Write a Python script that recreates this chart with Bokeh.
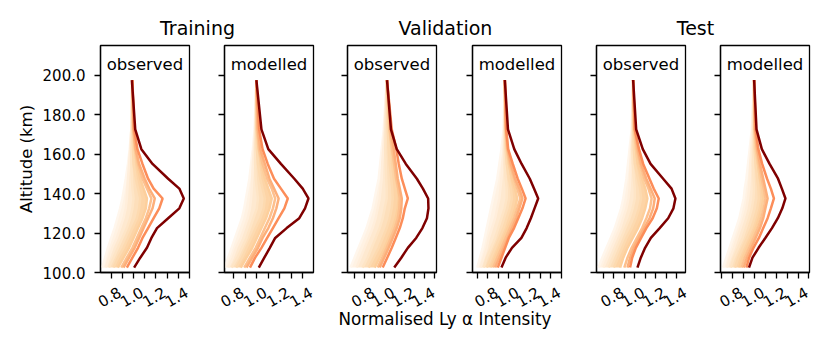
import math
from bokeh.plotting import figure
from bokeh.layouts import row, column
from bokeh.models import Range1d, FixedTicker, PrintfTickFormatter, Label
from bokeh.embed import file_html
from bokeh.resources import INLINE

# ---------------- data ----------------
ALT = [102.5, 107.5, 112.5, 117.5, 122.5, 127.5, 132.5, 137.5, 142.5, 147.5, 155.0, 162.5, 172.5, 197.5]

GROUP_TITLES = ["Training", "Validation", "Test"]
PANEL_KINDS = ["observed", "modelled", "observed", "modelled", "observed", "modelled"]
X_TICKS = [0.8, 1.0, 1.2, 1.4]
X_TICK_LABELS = ["0.8", "1.0", "1.2", "1.4"]
X_MINOR = [0.7, 0.9, 1.1, 1.3, 1.5]
Y_TICKS = [100, 120, 140, 160, 180, 200]
X_LIMITS = [(0.704, 1.501), (0.718, 1.494), (0.63, 1.515), (0.654, 1.502), (0.635, 1.483), (0.687, 1.505)]
Y_LIMITS = (100, 215)

# profiles ordered palest -> darkest
TRAIN_OBS = [
    [0.72, 0.745, 0.77, 0.80, 0.83, 0.855, 0.88, 0.90, 0.915, 0.93, 0.95, 0.965, 0.98, 0.985],
    [0.75, 0.78, 0.81, 0.85, 0.88, 0.91, 0.93, 0.94, 0.945, 0.95, 0.96, 0.97, 0.98, 0.985],
    [0.78, 0.82, 0.86, 0.90, 0.94, 0.97, 0.99, 1.0, 0.99, 0.985, 0.98, 0.98, 0.985, 0.99],
    [0.82, 0.86, 0.91, 0.95, 0.99, 1.03, 1.05, 1.06, 1.04, 1.02, 1.0, 0.995, 0.99, 0.99],
    [0.86, 0.91, 0.96, 1.0, 1.04, 1.08, 1.11, 1.12, 1.09, 1.06, 1.03, 1.01, 0.995, 0.99],
    [0.89, 0.94, 0.99, 1.03, 1.07, 1.11, 1.14, 1.16, 1.12, 1.08, 1.04, 1.015, 0.998, 0.99],
    [0.91, 0.96, 1.01, 1.05, 1.09, 1.13, 1.17, 1.19, 1.14, 1.10, 1.05, 1.02, 1.0, 0.99],
    [0.94, 0.99, 1.04, 1.08, 1.13, 1.18, 1.23, 1.26, 1.18, 1.13, 1.08, 1.035, 1.005, 0.99],
    [1.005, 1.06, 1.12, 1.16, 1.21, 1.31, 1.41, 1.45, 1.41, 1.31, 1.17, 1.07, 1.015, 0.985],
]
TRAIN_MOD = [
    [0.72, 0.75, 0.78, 0.81, 0.84, 0.87, 0.89, 0.905, 0.92, 0.935, 0.95, 0.965, 0.98, 0.995],
    [0.75, 0.79, 0.82, 0.86, 0.89, 0.92, 0.94, 0.95, 0.955, 0.96, 0.965, 0.975, 0.985, 0.995],
    [0.78, 0.83, 0.87, 0.91, 0.94, 0.97, 1.0, 1.01, 1.0, 0.99, 0.985, 0.985, 0.99, 0.996],
    [0.82, 0.87, 0.91, 0.95, 0.99, 1.03, 1.06, 1.07, 1.05, 1.03, 1.01, 1.0, 0.995, 0.996],
    [0.86, 0.91, 0.96, 1.0, 1.04, 1.08, 1.11, 1.13, 1.10, 1.07, 1.04, 1.015, 1.0, 0.996],
    [0.89, 0.94, 0.99, 1.03, 1.07, 1.11, 1.14, 1.16, 1.13, 1.09, 1.05, 1.02, 1.005, 0.996],
    [0.91, 0.96, 1.01, 1.05, 1.10, 1.14, 1.17, 1.19, 1.15, 1.11, 1.07, 1.03, 1.01, 0.996],
    [0.94, 0.985, 1.04, 1.09, 1.14, 1.19, 1.24, 1.27, 1.21, 1.15, 1.095, 1.05, 1.02, 0.996],
    [1.017, 1.065, 1.113, 1.16, 1.26, 1.37, 1.42, 1.45, 1.40, 1.327, 1.21, 1.10, 1.04, 0.996],
]
VALID_OBS = [
    [0.66, 0.70, 0.74, 0.78, 0.82, 0.85, 0.88, 0.90, 0.92, 0.94, 0.955, 0.97, 0.99, 1.02],
    [0.72, 0.76, 0.80, 0.84, 0.88, 0.91, 0.93, 0.95, 0.96, 0.97, 0.975, 0.985, 1.0, 1.02],
    [0.78, 0.83, 0.87, 0.91, 0.95, 0.98, 1.0, 1.02, 1.02, 1.015, 1.01, 1.005, 1.01, 1.02],
    [0.84, 0.89, 0.94, 0.98, 1.02, 1.05, 1.07, 1.08, 1.075, 1.065, 1.05, 1.04, 1.03, 1.02],
    [0.90, 0.95, 1.0, 1.04, 1.08, 1.11, 1.13, 1.14, 1.13, 1.11, 1.09, 1.07, 1.045, 1.023],
    [0.93, 0.975, 1.02, 1.06, 1.10, 1.13, 1.145, 1.15, 1.135, 1.115, 1.095, 1.075, 1.05, 1.023],
    [0.95, 0.995, 1.04, 1.08, 1.12, 1.15, 1.165, 1.17, 1.15, 1.13, 1.11, 1.09, 1.06, 1.023],
    [0.98, 1.025, 1.07, 1.11, 1.15, 1.18, 1.20, 1.23, 1.20, 1.17, 1.14, 1.115, 1.07, 1.023],
    [1.095, 1.165, 1.23, 1.313, 1.375, 1.42, 1.435, 1.432, 1.38, 1.32, 1.21, 1.12, 1.062, 1.023],
]
VALID_MOD = [
    [0.70, 0.725, 0.75, 0.77, 0.79, 0.81, 0.83, 0.85, 0.87, 0.89, 0.91, 0.93, 0.95, 0.96],
    [0.73, 0.76, 0.79, 0.81, 0.84, 0.87, 0.89, 0.91, 0.92, 0.93, 0.94, 0.95, 0.955, 0.96],
    [0.76, 0.79, 0.83, 0.87, 0.90, 0.93, 0.96, 0.98, 0.98, 0.97, 0.96, 0.96, 0.96, 0.962],
    [0.79, 0.83, 0.87, 0.91, 0.95, 0.98, 1.01, 1.03, 1.02, 1.0, 0.98, 0.97, 0.965, 0.962],
    [0.83, 0.87, 0.91, 0.95, 0.99, 1.03, 1.06, 1.08, 1.06, 1.03, 1.0, 0.98, 0.97, 0.962],
    [0.85, 0.89, 0.93, 0.97, 1.01, 1.05, 1.08, 1.11, 1.08, 1.05, 1.01, 0.985, 0.97, 0.962],
    [0.87, 0.91, 0.95, 0.99, 1.03, 1.07, 1.10, 1.13, 1.10, 1.06, 1.02, 0.99, 0.975, 0.962],
    [0.895, 0.93, 0.965, 1.0, 1.05, 1.09, 1.13, 1.16, 1.124, 1.085, 1.038, 0.994, 0.975, 0.962],
    [0.93, 0.97, 1.03, 1.12, 1.17, 1.21, 1.245, 1.28, 1.24, 1.20, 1.122, 1.052, 0.992, 0.962],
]
TEST_OBS = [
    [0.655, 0.69, 0.73, 0.77, 0.81, 0.84, 0.87, 0.89, 0.905, 0.92, 0.935, 0.95, 0.97, 0.984],
    [0.70, 0.74, 0.78, 0.82, 0.86, 0.89, 0.92, 0.94, 0.95, 0.955, 0.96, 0.965, 0.975, 0.984],
    [0.75, 0.79, 0.83, 0.87, 0.91, 0.95, 0.98, 1.0, 1.0, 0.99, 0.98, 0.975, 0.98, 0.984],
    [0.80, 0.84, 0.88, 0.92, 0.97, 1.01, 1.04, 1.06, 1.05, 1.03, 1.0, 0.99, 0.985, 0.984],
    [0.86, 0.89, 0.93, 0.98, 1.03, 1.07, 1.10, 1.12, 1.10, 1.07, 1.03, 1.01, 0.99, 0.984],
    [0.90, 0.93, 0.97, 1.02, 1.07, 1.11, 1.145, 1.16, 1.13, 1.09, 1.05, 1.02, 0.995, 0.984],
    [0.93, 0.955, 0.99, 1.04, 1.09, 1.14, 1.175, 1.19, 1.15, 1.11, 1.06, 1.03, 1.0, 0.984],
    [0.955, 0.975, 1.01, 1.06, 1.11, 1.17, 1.21, 1.228, 1.18, 1.14, 1.08, 1.04, 1.0, 0.984],
    [1.025, 1.057, 1.098, 1.153, 1.237, 1.318, 1.368, 1.387, 1.35, 1.27, 1.15, 1.076, 1.013, 0.984],
]
TEST_MOD = [
    [0.71, 0.74, 0.77, 0.80, 0.83, 0.86, 0.88, 0.90, 0.91, 0.925, 0.94, 0.955, 0.975, 0.995],
    [0.745, 0.775, 0.81, 0.84, 0.87, 0.90, 0.925, 0.94, 0.95, 0.955, 0.96, 0.97, 0.98, 0.995],
    [0.78, 0.81, 0.85, 0.89, 0.92, 0.95, 0.975, 0.99, 0.995, 0.99, 0.985, 0.985, 0.99, 0.995],
    [0.82, 0.85, 0.89, 0.93, 0.97, 1.0, 1.025, 1.04, 1.035, 1.025, 1.01, 1.0, 0.995, 0.996],
    [0.86, 0.89, 0.93, 0.97, 1.01, 1.04, 1.065, 1.08, 1.07, 1.05, 1.03, 1.01, 1.0, 0.996],
    [0.88, 0.91, 0.95, 0.99, 1.03, 1.06, 1.085, 1.10, 1.085, 1.065, 1.04, 1.02, 1.0, 0.996],
    [0.90, 0.93, 0.97, 1.01, 1.05, 1.08, 1.10, 1.12, 1.10, 1.08, 1.05, 1.025, 1.005, 0.996],
    [0.925, 0.95, 0.99, 1.04, 1.08, 1.12, 1.15, 1.178, 1.15, 1.115, 1.07, 1.035, 1.01, 0.996],
    [0.949, 0.981, 1.037, 1.099, 1.16, 1.214, 1.255, 1.284, 1.251, 1.216, 1.138, 1.067, 1.018, 0.996],
]
PANELS = [TRAIN_OBS, TRAIN_MOD, VALID_OBS, VALID_MOD, TEST_OBS, TEST_MOD]

# ---------------- style / layout ----------------
LINE_COLORS = ["#fff6ec", "#ffeedb", "#fee5c6", "#fddab0", "#fdcf9c",
               "#fdc08e", "#fdaf7a", "#fc8d59", "#7f0000"]
N_FAN = 5
FONT = "DejaVu Sans"
FIG_W = [206, 124, 124, 124, 124, 120]
BORDER_L = [100, 18, 17, 18, 18, 18]
BORDER_R = [17, 17, 18, 17, 17, 13]
FRAME_W = 89
FRAME_H = 227
BORDER_T = 5
BORDER_B = 12
PANEL_H = BORDER_T + FRAME_H + BORDER_B
TOTAL_W = sum(FIG_W)
TITLE_H = 40
BOTTOM_H = 56
TITLE_X = [197, 445, 695]
TITLE_Y = 13
XLAB_X = 444.5
XLAB_Y = 22
TICKLAB_Y = 44       # centre of rotated x tick labels inside the bottom strip
TICKLAB_DX = -2      # small horizontal nudge of tick labels (px)
KIND_DROP = 19       # px below frame top for the baseline of "observed"/"modelled"


def blend(c1, c2):
    a = [int(c1[i:i + 2], 16) for i in (1, 3, 5)]
    b = [int(c2[i:i + 2], 16) for i in (1, 3, 5)]
    return "#" + "".join("%02x" % ((u + v) // 2) for u, v in zip(a, b))


def style_ticks(ax):
    ax.axis_line_color = "black"
    ax.axis_line_width = 1.3
    ax.major_tick_line_color = "black"
    ax.major_tick_line_width = 1.3
    ax.major_tick_out = 6
    ax.major_tick_in = 0
    ax.minor_tick_line_color = "black"
    ax.minor_tick_line_width = 1.3
    ax.minor_tick_out = 6
    ax.minor_tick_in = 0


def make_panel(i):
    lines = PANELS[i]
    xlo, xhi = X_LIMITS[i]
    ylo, yhi = Y_LIMITS
    p = figure(width=FIG_W[i], height=PANEL_H,
               x_range=Range1d(xlo, xhi), y_range=Range1d(ylo, yhi),
               output_backend="svg", toolbar_location=None,
               min_border_left=BORDER_L[i], min_border_right=BORDER_R[i],
               min_border_top=BORDER_T, min_border_bottom=BORDER_B)
    p.grid.visible = False
    p.outline_line_color = "black"
    p.outline_line_width = 1.3
    p.outline_line_alpha = 1.0
    p.background_fill_color = "white"
    p.border_fill_color = "white"

    for k in range(N_FAN - 1):
        p.harea(x1=lines[k], x2=lines[k + 1], y=ALT,
                fill_color=blend(LINE_COLORS[k], LINE_COLORS[k + 1]), fill_alpha=1.0)
    for k, prof in enumerate(lines):
        p.line(prof, ALT, line_color=LINE_COLORS[k], line_width=2.5)

    xa = p.xaxis[0]
    xa.ticker = FixedTicker(ticks=[], minor_ticks=X_TICKS + X_MINOR)
    xa.major_label_standoff = 0
    style_ticks(xa)

    ya = p.yaxis[0]
    style_ticks(ya)
    if i == 0:
        ya.ticker = FixedTicker(ticks=Y_TICKS, minor_ticks=[])
        ya.formatter = PrintfTickFormatter(format="%.1f")
        ya.major_label_text_font = FONT
        ya.major_label_text_color = "black"
        ya.major_label_standoff = 9
        ya.major_label_text_font_size = "15px"
        ya.axis_label = "Altitude (km)"
        ya.axis_label_text_font = FONT
        ya.axis_label_text_font_size = "16.5px"
        ya.axis_label_text_font_style = "normal"
        ya.axis_label_text_color = "black"
        ya.axis_label_standoff = 4
    else:
        ya.ticker = FixedTicker(ticks=[], minor_ticks=Y_TICKS)

    ux = (yhi - ylo) / FRAME_H
    p.add_layout(Label(x=(xlo + xhi) / 2, y=yhi - KIND_DROP * ux, text=PANEL_KINDS[i],
                       text_align="center", text_baseline="alphabetic",
                       text_font=FONT, text_font_size="16.5px", text_color="black"))
    return p


def blank(h):
    f = figure(width=TOTAL_W, height=h, x_range=Range1d(0, TOTAL_W), y_range=Range1d(0, h),
               output_backend="svg", toolbar_location=None,
               x_axis_type=None, y_axis_type=None, min_border=0)
    f.outline_line_color = None
    f.grid.visible = False
    return f


top = blank(TITLE_H)
for t, x in zip(GROUP_TITLES, TITLE_X):
    top.add_layout(Label(x=x, y=TITLE_Y, text=t, text_align="center", text_baseline="alphabetic",
                         text_font=FONT, text_font_size="19px", text_color="black"))

bottom = blank(BOTTOM_H)
# x tick labels of every panel, placed under that panel's ticks (same scale as the panel)
frame_left = 0
for i in range(6):
    left = frame_left + BORDER_L[i]
    xlo, xhi = X_LIMITS[i]
    for t, s in zip(X_TICKS, X_TICK_LABELS):
        px = left + (t - xlo) / (xhi - xlo) * FRAME_W + TICKLAB_DX
        bottom.add_layout(Label(x=px, y=TICKLAB_Y, text=s, angle=math.radians(30),
                                text_align="center", text_baseline="middle",
                                text_font=FONT, text_font_size="15px", text_color="black"))
    frame_left += FIG_W[i]

bottom.add_layout(Label(x=XLAB_X, y=XLAB_Y, text="Normalised Ly \u03b1 Intensity",
                        text_align="center", text_baseline="alphabetic",
                        text_font=FONT, text_font_size="16.8px", text_color="black"))

panels = [make_panel(i) for i in range(6)]
layout = column(top, row(*panels, spacing=0), bottom, spacing=0)

open("out.html", "w").write(file_html(layout, INLINE))
